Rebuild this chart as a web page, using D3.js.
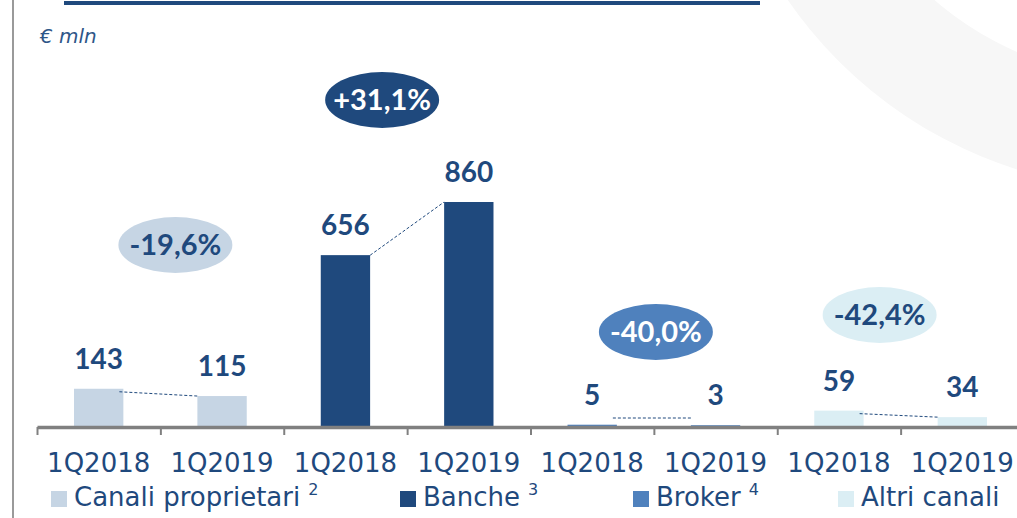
<!DOCTYPE html>
<html>
<head>
<meta charset="utf-8">
<script src="https://cdn.jsdelivr.net/npm/d3@7"></script>
<style>
	body { margin: 0; background: #fff; }
	svg { display: block; }
</style>
</head>
<body>
<svg id="chart" width="1017" height="518"></svg>
<script>
// ---- data ----
const channels = ['Canali proprietari', 'Banche', 'Broker', 'Altri canali'];
const footnotes = ['2', '3', '4', ''];
const periods = ['1Q2018', '1Q2019'];
const values = [[143, 115], [656, 860], [5, 3], [59, 34]];
const changes = ['-19,6%', '+31,1%', '-40,0%', '-42,4%'];

// ---- style ----
const colors = ['#c6d5e4', '#1f497d', '#4f81bd', '#dbeef4'];
const badgeText = ['#1f497d', '#ffffff', '#ffffff', '#1f497d'];
const dark = '#1f497d';
// badge centre offset from group centre, and centre height
const badgeDx = [15, -25, 2, -21];
const badgeY = [245, 100, 332, 315];
const legendX = [51, 400, 633, 838];

const svg = d3.select('#chart');

// items: one per bar
let items = [];
channels.forEach(function(c, i) {
	periods.forEach(function(p, j) {
		items.push({ channel: i, period: p, idx: i * 2 + j, value: values[i][j] });
	});
});

const x = d3.scaleBand().domain(d3.range(items.length)).range([37, 1024]).paddingInner(0.6).paddingOuter(0.3);
const xTick = d3.scaleLinear().domain([0, items.length]).range([37, 1024]);
const y = d3.scaleLinear().domain([0, 860]).range([426, 202]);

// background decoration
svg.append('path')
	.attr('d', d3.arc().innerRadius(330).outerRadius(440).startAngle(0).endAngle(2 * Math.PI)())
	.attr('transform', 'translate(1150,-250)')
	.attr('fill', '#f7f7f7');

svg.append('line').attr('x1', 13).attr('x2', 13).attr('y1', 0).attr('y2', 518)
	.attr('stroke', '#9a9a9a').attr('stroke-width', 2);
svg.append('rect').attr('x', 64).attr('y', 1).attr('width', 696).attr('height', 4).attr('fill', dark);

svg.append('text').attr('x', 40).attr('y', 43)
	.attr('font-family', 'DejaVu Sans').attr('font-style', 'italic').attr('font-size', 20)
	.attr('fill', '#2e5688').text('€ mln');

// bars
svg.append('g').selectAll('rect').data(items).enter().append('rect')
	.attr('x', d => x(d.idx))
	.attr('width', x.bandwidth())
	.attr('y', d => y(d.value))
	.attr('height', d => y(0) - y(d.value))
	.attr('fill', d => colors[d.channel]);

// connectors
svg.append('g').selectAll('line').data(values).enter().append('line')
	.attr('x1', (d, i) => x(i * 2) + x.bandwidth() - 4)
	.attr('y1', d => Math.min(y(d[0]) + 3, 418))
	.attr('x2', (d, i) => x(i * 2 + 1))
	.attr('y2', d => Math.min(y(d[1]), 418))
	.attr('stroke', dark).attr('stroke-width', 1).attr('stroke-dasharray', '3,2');

// value labels
svg.append('g').selectAll('text').data(items).enter().append('text')
	.attr('x', d => x(d.idx) + x.bandwidth() / 2)
	.attr('y', d => y(d.value) - 20)
	.attr('text-anchor', 'middle')
	.attr('font-family', 'Lato').attr('font-weight', 'bold').attr('font-size', 28)
	.attr('fill', dark)
	.text(d => d.value);

// axis
const axisG = svg.append('g').attr('transform', 'translate(0,427)');
axisG.call(d3.axisBottom(xTick).ticks(items.length).tickFormat('').tickSize(8).tickSizeOuter(0));
axisG.select('.domain').attr('stroke', '#808080').attr('stroke-width', 3.5);
axisG.selectAll('.tick line').attr('stroke', '#808080').attr('stroke-width', 2);

const labelG = svg.append('g').attr('transform', 'translate(0,472)');
labelG.call(d3.axisBottom(x).tickSize(0).tickPadding(0).tickFormat(i => items[i].period));
labelG.select('.domain').remove();
labelG.selectAll('text')
	.attr('dy', 0)
	.attr('font-family', 'DejaVu Sans').attr('font-size', 26)
	.attr('fill', dark);

// change badges
const badges = svg.append('g').selectAll('g').data(changes).enter().append('g')
	.attr('transform', (d, i) => 'translate(' + (xTick(i * 2 + 1) + badgeDx[i]) + ',' + badgeY[i] + ')');
badges.append('ellipse').attr('rx', 57).attr('ry', 28).attr('fill', (d, i) => colors[i]);
badges.append('text')
	.attr('text-anchor', 'middle').attr('dy', 10)
	.attr('font-family', 'Lato').attr('font-weight', 'bold').attr('font-size', 29)
	.attr('fill', (d, i) => badgeText[i])
	.text(d => d);

// legend
const legend = svg.append('g').selectAll('g').data(channels).enter().append('g')
	.attr('transform', (d, i) => 'translate(' + legendX[i] + ',0)');
legend.append('rect').attr('y', 491).attr('width', 16).attr('height', 16).attr('fill', (d, i) => colors[i]);
const lt = legend.append('text').attr('x', 23).attr('y', 506)
	.attr('font-family', 'DejaVu Sans').attr('font-size', 26).attr('fill', dark);
lt.append('tspan').text(d => d);
lt.append('tspan').attr('dx', 8).attr('dy', -11).attr('font-size', 16)
	.text((d, i) => footnotes[i]);
</script>
</body>
</html>
